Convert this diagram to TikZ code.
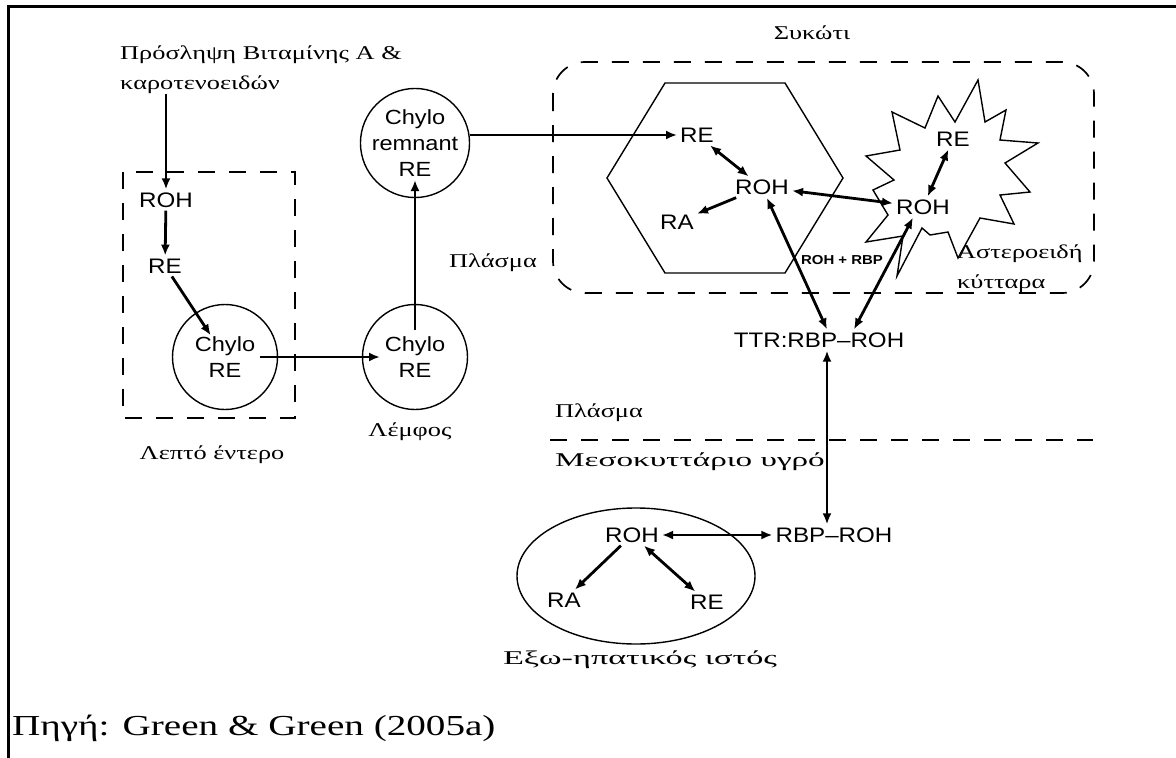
\documentclass[tikz,border=0pt]{standalone}
\usepackage{fontspec}
\setmainfont{Liberation Serif}[FakeStretch=1.35]
\setsansfont{Liberation Sans}[FakeStretch=1.15]
\usetikzlibrary{arrows.meta,calc}

\begin{document}
\begin{tikzpicture}[x=1pt, y=-1pt,
    lbl/.style={font=\sffamily\fontsize{21}{26}\selectfont, inner sep=3pt, align=center},
    grk/.style={font=\fontsize{19.5}{30}\selectfont, inner sep=0pt},
    bubble/.style={draw, circle, line width=1.4pt, minimum size=105pt, inner sep=0pt,
      align=center, font=\sffamily\fontsize{20.5}{26}\selectfont},
    arr/.style={line width=2.8pt, -{Latex[length=11pt,width=9pt]}},
    darr/.style={line width=2.8pt, {Latex[length=11pt,width=9pt]}-{Latex[length=11pt,width=9pt]}},
    outl/.style={line width=1.4pt},
    dsh/.style={line width=1.7pt, dash pattern=on 17pt off 14pt}]
  \useasboundingbox (0,0) rectangle (1176,758);
  \draw[line width=3pt] (8,758) -- (8,6) -- (1176,6);

  % small intestine and lymph
  \draw[dsh] (123,172) rectangle (295,418);
  \node[grk, anchor=west, align=left] (intake) at (120,70) {Πρόσληψη Βιταμίνης Α \&\\καροτενοειδών};
  \node[lbl] (roh1) at (166,200) {ROH};
  \node[lbl] (re1) at (165,266) {RE};
  \node[bubble] (chyA) at (225,357) {Chylo\\RE};
  \node[grk] (gut) at (212,455) {Λεπτό έντερο};
  \node[bubble] (chyB) at (415,357) {Chylo\\RE};
  \node[grk] (lymph) at (410,432) {Λέμφος};
  \node[bubble] (rem) at (415,143) {Chylo\\remnant\\RE};

  % liver
  \draw[dsh, rounded corners=32pt] (553,62) rectangle (1094,293);
  \node[grk] (liver) at (812,33) {Συκώτι};
  \node[grk] (plasma1) at (493,263) {Πλάσμα};
  \draw[outl] (607,178) -- (665,83) -- (785,83) -- (843,178) -- (785,273) -- (665,273) -- cycle;
  \draw[outl] (978,80) -- (985,122) -- (1006,110) -- (1000,140) -- (1038,143) -- (1005,163)
    -- (1030,192) -- (1000,195) -- (1014,224) -- (980,218) -- (958,258) -- (948,232)
    -- (930,235) -- (922,228) -- (897,276) -- (903,236) -- (866,242) -- (888,215)
    -- (873,190) -- (894,180) -- (866,156) -- (900,150) -- (892,112) -- (925,128)
    -- (938,96) -- (955,122) -- cycle;
  \node[lbl] (reL) at (697,135) {RE};
  \node[lbl] (rohL) at (762,187) {ROH};
  \node[lbl] (raL) at (677,222) {RA};
  \node[lbl] (reS) at (953,139) {RE};
  \node[lbl] (rohS) at (923,207) {ROH};
  \node[grk, anchor=west, align=left] (stell) at (957,269) {Αστεροειδή\\κύτταρα};
  \node[font=\sffamily\bfseries\fontsize{13}{15}\selectfont, inner sep=1pt] (rbplbl) at (842,260) {ROH + RBP};

  % plasma / extracellular fluid
  \node[lbl] (ttr) at (819,340) {TTR:RBP–ROH};
  \draw[dsh] (550,440) -- (1093,440);
  \node[grk, anchor=west] (plasma2) at (555,413) {Πλάσμα};
  \node[grk, anchor=west] (ecf) at (555,462) {\scalebox{1.26}[1]{Μεσοκυττάριο υγρό}};
  \node[lbl] (rbp) at (834,535) {RBP–ROH};

  % extra-hepatic tissue
  \draw[outl] (636,576) ellipse [x radius=119pt, y radius=68pt];
  \node[lbl] (rohE) at (632,535) {ROH};
  \node[lbl] (raE) at (564,600) {RA};
  \node[lbl] (reE) at (707,602) {RE};
  \node[grk] (tissue) at (640,660) {\scalebox{1.3}[1]{Εξω-ηπατικός ιστός}};

  \node[font=\fontsize{29}{32}\selectfont, anchor=west, inner sep=0pt] (src) at (12,728) {Πηγή: Green \& Green (2005a)};

  % connectors
  \draw[arr] (intake.south -| roh1) -- (roh1);
  \draw[arr] (roh1) -- (re1);
  \draw[arr, shorten >=26pt] (re1) -- (chyA.center);
  \draw[arr, shorten <=35pt, shorten >=35pt] (chyA.center) -- (chyB.center);
  \draw[arr, shorten <=27pt, shorten >=37pt] (chyB.center) -- (rem.center);
  \draw[arr] (rem.east |- reL) -- (reL);
  \draw[darr] (reL) -- (rohL);
  \draw[arr] (rohL) -- (raL);
  \draw[darr] (rohL) -- (rohS);
  \draw[darr] (reS) -- (rohS);
  \draw[darr] (rohL) -- ([xshift=8pt]ttr.north);
  \draw[darr] ([xshift=-10pt]rohS.south) -- ([xshift=35pt]ttr.north);
  \draw[darr] ([xshift=8pt]ttr.south) -- ([xshift=-7pt]rbp.north);
  \draw[darr] (rohE) -- (rbp);
  \draw[arr] (rohE) -- (raE);
  \draw[darr] (rohE) -- (reE);
\end{tikzpicture}
\end{document}
